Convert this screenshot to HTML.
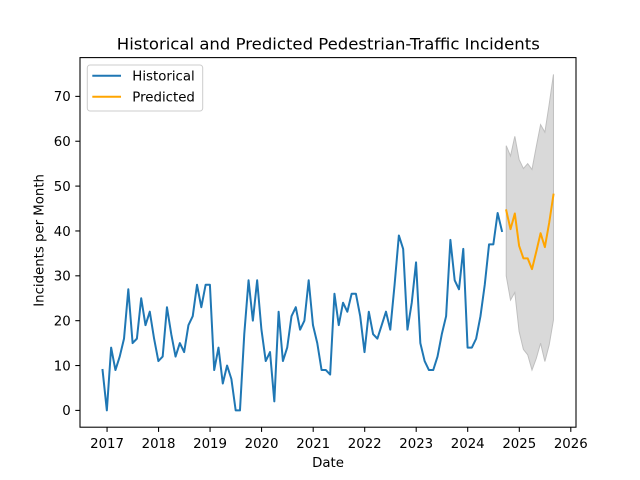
<!DOCTYPE html>
<html><head><meta charset="utf-8"><style>
html,body{margin:0;padding:0;background:#fff;}
svg{display:block;font-family:"DejaVu Sans","Liberation Sans",sans-serif;}
</style></head><body>
<svg width="640" height="480" viewBox="0 0 640 480" xmlns="http://www.w3.org/2000/svg">
<rect x="0" y="0" width="640" height="480" fill="#fff"/>
<g transform="matrix(4.2945 0 0 -4.486 102.545 410.4)">
<polyline fill="none" stroke="#1f77b4" stroke-width="2" stroke-linejoin="round" stroke-linecap="square" vector-effect="non-scaling-stroke" points="0,9 1,0 2,14 3,9 4,12 5,16 6,27 7,15 8,16 9,25 10,19 11,22 12,16 13,11 14,12 15,23 16,17 17,12 18,15 19,13 20,19 21,21 22,28 23,23 24,28 25,28 26,9 27,14 28,6 29,10 30,7 31,0 32,0 33,17 34,29 35,20 36,29 37,18 38,11 39,13 40,2 41,22 42,11 43,14 44,21 45,23 46,18 47,20 48,29 49,19 50,15 51,9 52,9 53,8 54,26 55,19 56,24 57,22 58,26 59,26 60,21 61,13 62,22 63,17 64,16 65,19 66,22 67,18 68,28 69,39 70,36 71,18 72,24 73,33 74,15 75,11 76,9 77,9 78,12 79,17 80,21 81,38 82,29 83,27 84,36 85,14 86,14 87,16 88,21 89,28 90,37 91,37 92,44 93,40"/>
<polygon fill="#d9d9d9" stroke="#bfbfbf" stroke-width="1" vector-effect="non-scaling-stroke" points="94,59 95,56.7 96,61.1 97,55.9 98,53.9 99,55 100,53.7 101,58.8 102,63.7 103,62 104,68.2 105,74.9 105,20.2 104,14.6 103,10.9 102,15 101,11.6 100,9 99,12.4 98,13.6 97,17.6 96,26.3 95,24.6 94,30"/>
<polyline fill="none" stroke="#ffa500" stroke-width="2" stroke-linejoin="round" stroke-linecap="square" vector-effect="non-scaling-stroke" points="94,44.6 95,40.4 96,43.9 97,36.7 98,33.9 99,33.9 100,31.5 101,35.4 102,39.5 103,36.4 104,41.8 105,48.1"/>
</g>
<rect x="80" y="57.6" width="496" height="369.6" fill="none" stroke="#000" stroke-width="1.07"/>
<g stroke="#000" stroke-width="1.07">
<line x1="107.06" y1="427.2" x2="107.06" y2="431.9"/>
<line x1="158.56" y1="427.2" x2="158.56" y2="431.9"/>
<line x1="210.06" y1="427.2" x2="210.06" y2="431.9"/>
<line x1="261.56" y1="427.2" x2="261.56" y2="431.9"/>
<line x1="313.2" y1="427.2" x2="313.2" y2="431.9"/>
<line x1="364.7" y1="427.2" x2="364.7" y2="431.9"/>
<line x1="416.2" y1="427.2" x2="416.2" y2="431.9"/>
<line x1="467.7" y1="427.2" x2="467.7" y2="431.9"/>
<line x1="519.3" y1="427.2" x2="519.3" y2="431.9"/>
<line x1="570.8" y1="427.2" x2="570.8" y2="431.9"/>
<line x1="75.3" y1="410.4" x2="80" y2="410.4"/>
<line x1="75.3" y1="365.54" x2="80" y2="365.54"/>
<line x1="75.3" y1="320.68" x2="80" y2="320.68"/>
<line x1="75.3" y1="275.82" x2="80" y2="275.82"/>
<line x1="75.3" y1="230.96" x2="80" y2="230.96"/>
<line x1="75.3" y1="186.1" x2="80" y2="186.1"/>
<line x1="75.3" y1="141.24" x2="80" y2="141.24"/>
<line x1="75.3" y1="96.38" x2="80" y2="96.38"/>
</g>
<g font-size="13.33" fill="#000" text-anchor="middle">
<text x="107.06" y="448">2017</text>
<text x="158.56" y="448">2018</text>
<text x="210.06" y="448">2019</text>
<text x="261.56" y="448">2020</text>
<text x="313.2" y="448">2021</text>
<text x="364.7" y="448">2022</text>
<text x="416.2" y="448">2023</text>
<text x="467.7" y="448">2024</text>
<text x="519.3" y="448">2025</text>
<text x="570.8" y="448">2026</text>
<text x="328" y="467">Date</text>
</g>
<g font-size="13.33" fill="#000" text-anchor="end">
<text x="70.7" y="415.2">0</text>
<text x="70.7" y="370.3">10</text>
<text x="70.7" y="325.5">20</text>
<text x="70.7" y="280.6">30</text>
<text x="70.7" y="235.8">40</text>
<text x="70.7" y="190.9">50</text>
<text x="70.7" y="146">60</text>
<text x="70.7" y="101.2">70</text>
</g>
<text transform="translate(43.5 240.4) rotate(-90)" font-size="13.33" text-anchor="middle" fill="#000" textLength="132.7" lengthAdjust="spacingAndGlyphs">Incidents per Month</text>
<text x="328.3" y="49.6" font-size="16" text-anchor="middle" fill="#000" textLength="423" lengthAdjust="spacingAndGlyphs">Historical and Predicted Pedestrian-Traffic Incidents</text>
<rect x="87.3" y="65" width="115.4" height="46" rx="2.8" ry="2.8" fill="#fff" fill-opacity="0.8" stroke="#cccccc" stroke-width="1"/>
<line x1="93.3" y1="75.7" x2="120" y2="75.7" stroke="#1f77b4" stroke-width="2" stroke-linecap="square"/>
<line x1="93.3" y1="96.7" x2="120" y2="96.7" stroke="#ffa500" stroke-width="2" stroke-linecap="square"/>
<text x="132.3" y="80.6" font-size="13.33" fill="#000">Historical</text>
<text x="132.3" y="101.6" font-size="13.33" fill="#000">Predicted</text>
</svg>
</body></html>
